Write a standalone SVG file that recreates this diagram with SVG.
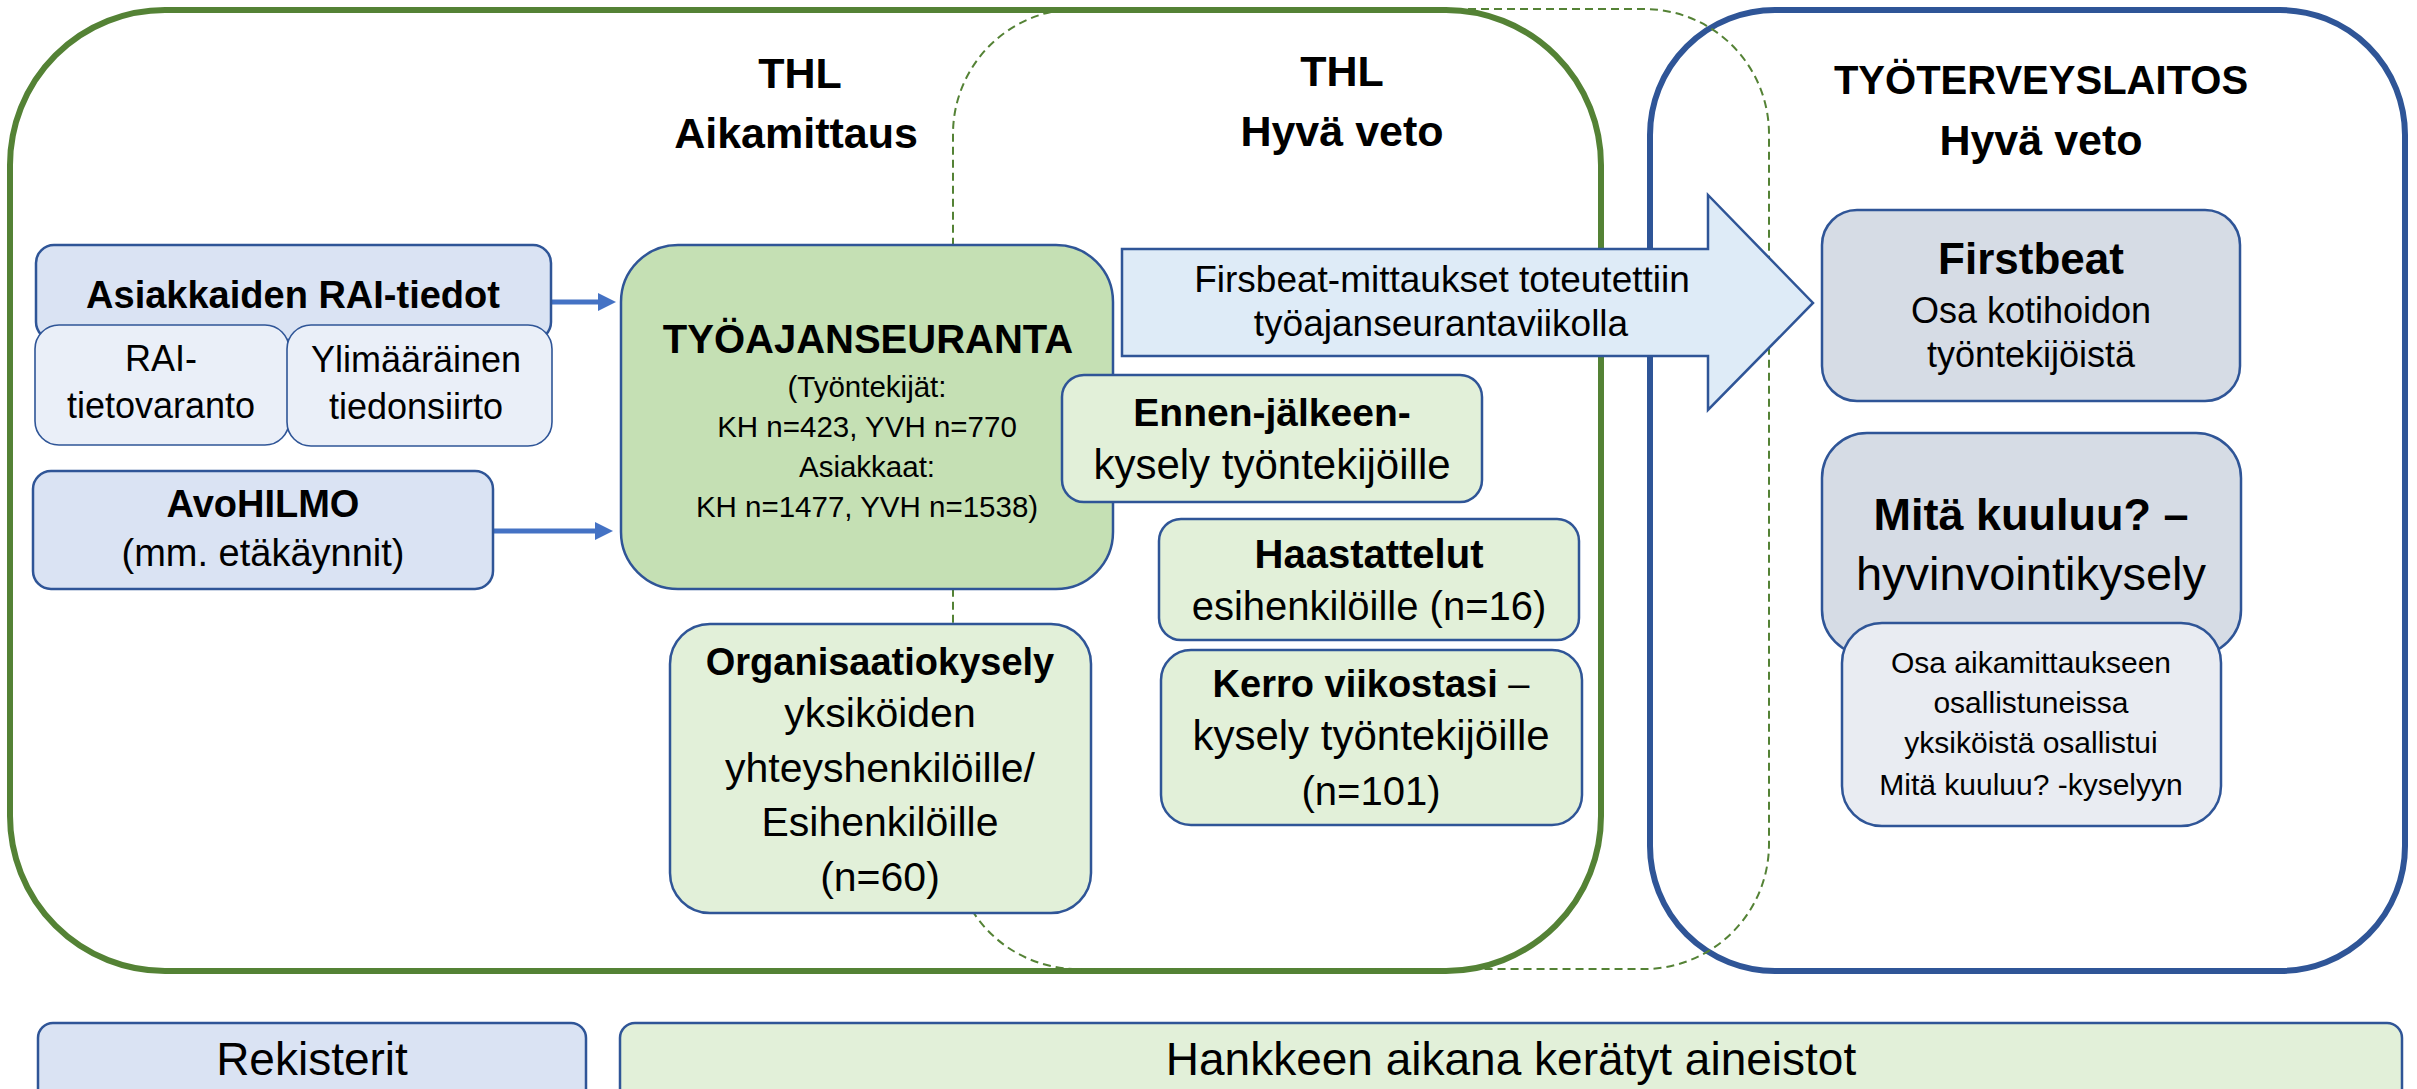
<svg xmlns="http://www.w3.org/2000/svg" width="2417" height="1089" viewBox="0 0 2417 1089">
<defs>
<style>
text{font-family:"Liberation Sans",Arial,sans-serif;fill:#000;text-anchor:middle}
.b{font-weight:bold}
.n{font-weight:normal}
.reg{fill:#DAE3F3;stroke:#2F5597;stroke-width:2.5}
.sub{fill:#EAEFF8;stroke:#2F5597;stroke-width:1.6}
.main{fill:#C5E0B4;stroke:#2F5597;stroke-width:2.5}
.lg{fill:#E2F0D9;stroke:#2F5597;stroke-width:2.5}
.gr{fill:#D6DCE5;stroke:#2F5597;stroke-width:2.5}
.lgr{fill:#E9ECF2;stroke:#2F5597;stroke-width:2.5}
.conn{stroke:#4472C4;stroke-width:5;fill:none}
</style>
<marker id="ah" markerUnits="userSpaceOnUse" markerWidth="18" markerHeight="18" refX="0" refY="9" orient="auto">
<path d="M0,0 L18,9 L0,18 z" fill="#4472C4"/>
</marker>
</defs>
<rect width="2417" height="1089" fill="#FFFFFF"/>

<g id="thl-container">
<rect x="10" y="10" width="1591" height="961" rx="155" fill="none" stroke="#548235" stroke-width="6"/>
<text class="b" x="800" y="88" font-size="43">THL</text>
<text class="b" x="796" y="148" font-size="43">Aikamittaus</text>
</g>

<g id="ttl-container">
<rect x="1650" y="10" width="755" height="961" rx="125" fill="none" stroke="#2F5597" stroke-width="6"/>
<text class="b" x="2041" y="94" font-size="40">TYÖTERVEYSLAITOS</text>
<text class="b" x="2041" y="155" font-size="43">Hyvä veto</text>
</g>

<g id="thl-hyva-veto-region">
<rect x="953" y="9" width="816" height="960" rx="125" fill="none" stroke="#548235" stroke-width="2" stroke-dasharray="8 5"/>
<text class="b" x="1342" y="86" font-size="43">THL</text>
<text class="b" x="1342" y="146" font-size="43">Hyvä veto</text>
</g>

<g id="connectors">
<line class="conn" x1="551" y1="302" x2="598" y2="302" marker-end="url(#ah)"/>
<line class="conn" x1="493" y1="531" x2="595" y2="531" marker-end="url(#ah)"/>
</g>

<g id="asiakkaiden-rai">
<rect class="reg" x="36" y="245" width="515" height="95" rx="18"/>
<text class="b" x="293" y="308" font-size="38">Asiakkaiden RAI-tiedot</text>
</g>
<g id="rai-tietovaranto">
<rect class="sub" x="35" y="325" width="254" height="120" rx="24"/>
<text x="161" y="371" font-size="36">RAI-</text>
<text x="161" y="418" font-size="36">tietovaranto</text>
</g>
<g id="ylimaarainen">
<rect class="sub" x="287" y="325" width="265" height="121" rx="24"/>
<text x="416" y="372" font-size="36">Ylimääräinen</text>
<text x="416" y="419" font-size="36">tiedonsiirto</text>
</g>
<g id="avohilmo">
<rect class="reg" x="33" y="471" width="460" height="118" rx="18"/>
<text class="b" x="263" y="517" font-size="38">AvoHILMO</text>
<text x="263" y="566" font-size="38">(mm. etäkäynnit)</text>
</g>

<g id="tyoajanseuranta">
<rect class="main" x="621" y="245" width="492" height="344" rx="57"/>
<text class="b" x="868" y="353" font-size="40">TYÖAJANSEURANTA</text>
<text x="867" y="397" font-size="29.5">(Työntekijät:</text>
<text x="867" y="437" font-size="29.5">KH n=423, YVH n=770</text>
<text x="867" y="477" font-size="29.5">Asiakkaat:</text>
<text x="867" y="517" font-size="29.5">KH n=1477, YVH n=1538)</text>
</g>

<g id="organisaatiokysely">
<rect class="lg" x="670" y="624" width="421" height="289" rx="40"/>
<text class="b" x="880" y="675" font-size="38">Organisaatiokysely</text>
<text x="880" y="727" font-size="41">yksiköiden</text>
<text x="880" y="782" font-size="41">yhteyshenkilöille/</text>
<text x="880" y="836" font-size="41">Esihenkilöille</text>
<text x="880" y="891" font-size="41">(n=60)</text>
</g>

<g id="firstbeat-arrow">
<path d="M1122,249 H1708 V195 L1813,303 L1708,410 V356 H1122 Z" fill="#DEEBF7" stroke="#2F5597" stroke-width="2.5" stroke-linejoin="miter"/>
<text x="1442" y="292" font-size="37">Firsbeat-mittaukset toteutettiin</text>
<text x="1441" y="336" font-size="37">työajanseurantaviikolla</text>
</g>

<g id="ennen-jalkeen">
<rect class="lg" x="1062" y="375" width="420" height="127" rx="22"/>
<text class="b" x="1272" y="426" font-size="39">Ennen-jälkeen-</text>
<text x="1272" y="479" font-size="42">kysely työntekijöille</text>
</g>
<g id="haastattelut">
<rect class="lg" x="1159" y="519" width="420" height="121" rx="22"/>
<text class="b" x="1369" y="568" font-size="40">Haastattelut</text>
<text x="1369" y="620" font-size="40">esihenkilöille (n=16)</text>
</g>
<g id="kerro-viikostasi">
<rect class="lg" x="1161" y="650" width="421" height="175" rx="30"/>
<text class="b" x="1371" y="697" font-size="38">Kerro viikostasi <tspan class="n">–</tspan></text>
<text x="1371" y="750" font-size="42">kysely työntekijöille</text>
<text x="1371" y="805" font-size="40">(n=101)</text>
</g>

<g id="firstbeat">
<rect class="gr" x="1822" y="210" width="418" height="191" rx="35"/>
<text class="b" x="2031" y="274" font-size="44">Firstbeat</text>
<text x="2031" y="323" font-size="36">Osa kotihoidon</text>
<text x="2031" y="367" font-size="36">työntekijöistä</text>
</g>
<g id="mita-kuuluu">
<rect class="gr" x="1822" y="433" width="419" height="222" rx="45"/>
<text class="b" x="2031" y="530" font-size="45">Mitä kuuluu? –</text>
<text x="2031" y="590" font-size="47">hyvinvointikysely</text>
</g>
<g id="osa-aikamittaukseen">
<rect class="lgr" x="1842" y="623" width="379" height="203" rx="40"/>
<text x="2031" y="673" font-size="30">Osa aikamittaukseen</text>
<text x="2031" y="713" font-size="30">osallistuneissa</text>
<text x="2031" y="753" font-size="30">yksiköistä osallistui</text>
<text x="2031" y="795" font-size="30">Mitä kuuluu? -kyselyyn</text>
</g>

<g id="legend-rekisterit">
<rect class="reg" x="38" y="1023" width="548" height="90" rx="15"/>
<text x="312" y="1075" font-size="46">Rekisterit</text>
</g>
<g id="legend-hankkeen">
<rect class="lg" x="620" y="1023" width="1782" height="90" rx="15"/>
<text x="1511" y="1075" font-size="46">Hankkeen aikana kerätyt aineistot</text>
</g>
</svg>
